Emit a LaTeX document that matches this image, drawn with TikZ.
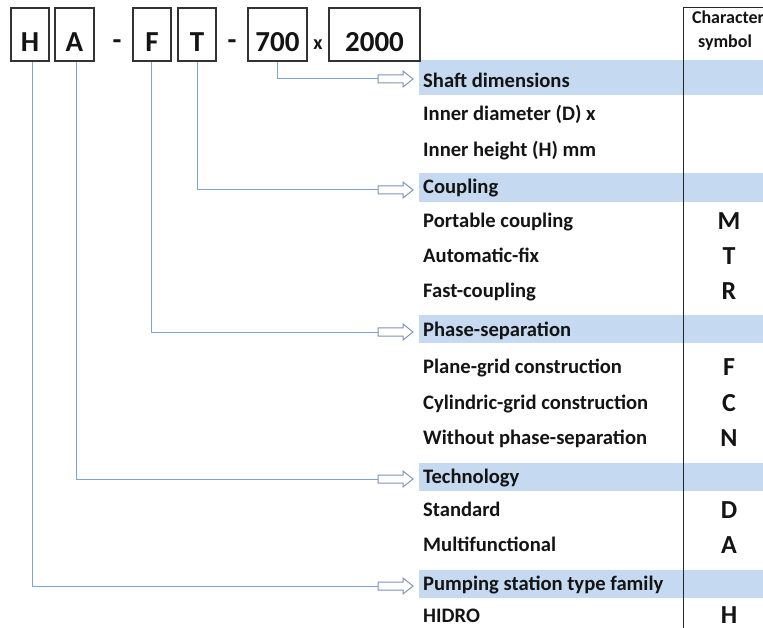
\documentclass[tikz,border=0pt]{standalone}
\usepackage{fontspec}
\setmainfont{Carlito}
\definecolor{band}{HTML}{C5D9F1}
\definecolor{conncol}{HTML}{7FA3D2}
\definecolor{arrcol}{HTML}{7F93B3}
\definecolor{txt}{HTML}{141414}
\tikzset{
  codebox/.style={draw=black!80, line width=1.1pt, inner sep=0pt, minimum height=53pt,
    text height=35pt, text depth=0pt, font=\fontsize{29}{29}\selectfont\bfseries, text=txt},
  sep/.style={inner sep=0pt, font=\fontsize{29}{29}\selectfont\bfseries, text=txt},
  rowtxt/.style={anchor=base west, inner sep=0pt, font=\fontsize{20.6}{20.6}\selectfont\bfseries, text=txt},
  symtxt/.style={anchor=base, inner sep=0pt, font=\fontsize{26}{26}\selectfont\bfseries, text=txt},
  headtxt/.style={anchor=base, inner sep=0pt, font=\fontsize{18}{18}\selectfont\bfseries, text=txt},
  conn/.style={draw=conncol, line width=1pt},
  hollowarrow/.style={draw=arrcol, fill=white, line width=1pt, line join=miter},
}
\newcommand{\bandrow}[2]{\fill[band] (419,#1) rectangle (763,#2);}
\newcommand{\blockarrow}[1]{\draw[hollowarrow] (#1) -- ++(0,-4) -- ++(25,0) -- ++(0,-4) -- ++(10,8) -- ++(-10,8) -- ++(0,-4) -- ++(-25,0) -- cycle;}
\begin{document}
\begin{tikzpicture}[x=1pt, y=-1pt]
\useasboundingbox (0,0) rectangle (763,628);
% bands
\bandrow{60}{95}
\bandrow{173}{202}
\bandrow{315}{343}
\bandrow{463}{491}
\bandrow{570}{598}
% code boxes
\node[codebox, minimum width=38pt] (bH) at (30,34.5) {H};
\node[codebox, minimum width=39pt] (bA) at (74.5,34.5) {A};
\node[sep] (d1) at (117,45) {-};
\node[codebox, minimum width=38pt] (bF) at (152,34.5) {F};
\node[codebox, minimum width=38pt] (bT) at (197,34.5) {T};
\node[sep] (d2) at (232,45) {-};
\node[codebox, minimum width=59pt] (b700) at (277.5,34.5) {700};
\node[inner sep=0pt, font=\fontsize{20}{20}\selectfont\bfseries, text=txt] (xx) at (318,45) {x};
\node[codebox, minimum width=91pt] (b2000) at (374.5,34.5) {2000};
% symbol column
\draw[black!85, line width=1pt] (683,640) -- (683,8) -- (770,8);
\node[headtxt] (ch1) at (728,24) {Character};
\node[headtxt] (ch2) at (725,48) {symbol};
% arrow tails
\coordinate (a1) at (378,79);
\coordinate (a2) at (378,190);
\coordinate (a3) at (378,332);
\coordinate (a4) at (378,479);
\coordinate (a5) at (378,586);
% connectors
\draw[conn] ([xshift=-0.5pt]b700.south) |- (a1);
\draw[conn] (bT.south) |- (a2);
\draw[conn] ([xshift=-1pt]bF.south) |- (a3);
\draw[conn] ([xshift=1.5pt]bA.south) |- (a4);
\draw[conn] ([xshift=2pt]bH.south) |- (a5);
\blockarrow{a1}
\blockarrow{a2}
\blockarrow{a3}
\blockarrow{a4}
\blockarrow{a5}
% rows
\node[rowtxt] (r1) at (423,88) {Shaft dimensions};
\node[rowtxt] (r2) at (423,121) {Inner diameter (D) x};
\node[rowtxt] (r3) at (423,157) {Inner height (H) mm};
\node[rowtxt] (r4) at (423,194) {Coupling};
\node[rowtxt] (r5) at (423,228) {Portable coupling};
\node[rowtxt] (r6) at (423,263) {Automatic-fix};
\node[rowtxt] (r7) at (423,298) {Fast-coupling};
\node[rowtxt] (r8) at (423,337) {Phase-separation};
\node[rowtxt] (r9) at (423,373) {Plane-grid construction};
\node[rowtxt] (r10) at (423,409) {Cylindric-grid construction};
\node[rowtxt] (r11) at (423,444) {Without phase-separation};
\node[rowtxt] (r12) at (423,483) {Technology};
\node[rowtxt] (r13) at (423,516) {Standard};
\node[rowtxt] (r14) at (423,551) {Multifunctional};
\node[rowtxt] (r15) at (423,590) {Pumping station type family};
\node[rowtxt] (r16) at (423,622) {HIDRO};
% symbols
\node[symtxt] (sM) at (729,230) {M};
\node[symtxt] (sT) at (729,265) {T};
\node[symtxt] (sR) at (729,300) {R};
\node[symtxt] (sF) at (729,375) {F};
\node[symtxt] (sC) at (729,411) {C};
\node[symtxt] (sN) at (729,446) {N};
\node[symtxt] (sD) at (729,518) {D};
\node[symtxt] (sA) at (729,553) {A};
\node[symtxt] (sH) at (729,623) {H};
\end{tikzpicture}
\end{document}
